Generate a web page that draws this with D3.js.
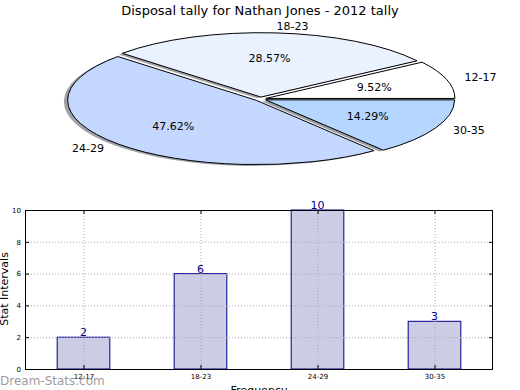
<!DOCTYPE html>
<html><head><meta charset="utf-8">
<script src="https://cdn.jsdelivr.net/npm/d3@7"></script>
<style>body{margin:0;background:#fff}svg{display:block;font-family:"DejaVu Sans",sans-serif}</style>
</head><body><svg id="c" width="520" height="390"></svg>
<script>
const categories = ["12-17","18-23","24-29","30-35"];
const values = [2,6,10,3];
const pieColors = ["#ffffff","#eaf1ff","#c4d8ff","#b4d6ff"];
const yTicks = [0,2,4,6,8,10];
const title = "Disposal tally for Nathan Jones - 2012 tally";

const svg = d3.select("#c");
svg.append("rect").attr("width",520).attr("height",390).attr("fill","#fff");

// ---- Pie (elliptical, matplotlib style) ----
const cx = 260.5, cy = 99, rx = 189, ry = 64.4, expl = 0.03;
const total = d3.sum(values);
const pie = d3.pie().sort(null).startAngle(Math.PI/2).endAngle(Math.PI/2 - 2*Math.PI);
const arcs = pie(values);
const arc = d3.arc().innerRadius(0).outerRadius(1);
const pg = svg.append("g").attr("transform",`translate(${cx},${cy}) scale(${rx},${ry})`);
const mid = d => (d.startAngle + d.endAngle)/2;
// shadows
pg.selectAll("path.sh").data(arcs).join("path").attr("class","sh")
  .attr("transform",d=>`translate(${expl*Math.sin(mid(d)) - 0.02},${-expl*Math.cos(mid(d)) + 0.02})`)
  .attr("d",arc)
  .attr("fill",(d,i)=>{const c=d3.rgb(pieColors[i]);return d3.rgb(c.r*0.3,c.g*0.3,c.b*0.3).toString();})
  .attr("fill-opacity",0.5);
pg.selectAll("path.w").data(arcs).join("path").attr("class","w")
  .attr("transform",d=>`translate(${expl*Math.sin(mid(d))},${-expl*Math.cos(mid(d))})`)
  .attr("d",arc)
  .attr("fill",(d,i)=>pieColors[i])
  .attr("stroke","#000").attr("stroke-width",1)
  .attr("vector-effect","non-scaling-stroke");
// labels
arcs.forEach((d,i)=>{
  const a = mid(d), s = Math.sin(a), c = Math.cos(a);
  svg.append("text").attr("x",cx + (1.1+expl)*rx*s).attr("y",cy - (1.1+expl)*ry*c)
    .attr("text-anchor", s>0 ? "start" : "end").attr("dominant-baseline","central")
    .attr("font-size",11).attr("fill","#000").text(categories[i]);
  svg.append("text").attr("x",cx + (0.6+expl)*rx*s).attr("y",cy - (0.6+expl)*ry*c)
    .attr("text-anchor","middle").attr("dominant-baseline","central")
    .attr("font-size",11).attr("fill","#000").text((d.value/total*100).toFixed(2)+"%");
});
svg.append("text").attr("x",260).attr("y",10).attr("text-anchor","middle").attr("dominant-baseline","central")
  .attr("font-size",13).text(title);

// ---- Bar chart ----
const L=25,R=493,T=210,B=369;
const x = d3.scaleBand().domain(categories).range([L,R]).paddingInner(0.55).paddingOuter(0.275);
const y = d3.scaleLinear().domain([0,10]).range([B,T]);
svg.append("g").selectAll("rect.bar").data(values).join("rect").attr("class","bar")
  .attr("x",(d,i)=>x(categories[i])).attr("y",d=>y(d))
  .attr("width",x.bandwidth()).attr("height",d=>B-y(d))
  .attr("fill","#ccccE5").attr("stroke","#00008b").attr("stroke-width",1);
// grid
const grid = svg.append("g").attr("stroke","#aaaaaa").attr("stroke-dasharray","1,2").attr("stroke-width",1);
grid.selectAll("line.h").data(yTicks).join("line").attr("class","h")
  .attr("x1",L).attr("x2",R).attr("y1",d=>y(d)+0.5).attr("y2",d=>y(d)+0.5);
grid.selectAll("line.v").data(categories).join("line").attr("class","v")
  .attr("y1",T).attr("y2",B).attr("x1",d=>x(d)+x.bandwidth()/2+0.5).attr("x2",d=>x(d)+x.bandwidth()/2+0.5);
// axes
const axL = d3.axisLeft(y).tickValues(yTicks).tickSize(-4).tickPadding(4);
const axR = d3.axisRight(y).tickValues(yTicks).tickSize(-4).tickFormat("");
const xs = d3.scalePoint().domain(categories).range([x(categories[0])+x.bandwidth()/2, x(categories[3])+x.bandwidth()/2]);
const axB = d3.axisBottom(xs).tickSize(-4).tickPadding(5);
const axT = d3.axisTop(xs).tickSize(-4).tickFormat("");
function style(g){g.select(".domain").remove();g.selectAll("text").attr("font-size",7).attr("fill","#000").attr("font-family","DejaVu Sans");g.selectAll("line").attr("stroke","#000");}
svg.append("g").attr("transform",`translate(${L},0)`).call(axL).call(style);
svg.append("g").attr("transform",`translate(${R},0)`).call(axR).call(style);
svg.append("g").attr("transform",`translate(0,${B})`).call(axB).call(style);
svg.append("g").attr("transform",`translate(0,${T})`).call(axT).call(style);
svg.append("rect").attr("x",L+0.5).attr("y",T+0.5).attr("width",R-L-1).attr("height",B-T).attr("fill","none").attr("stroke","#000");
// value labels
svg.selectAll("text.val").data(values).join("text").attr("class","val")
  .attr("x",(d,i)=>x(categories[i])+x.bandwidth()/2).attr("y",d=>y(d)-1)
  .attr("text-anchor","middle").attr("font-size",11).attr("fill","#00008b").text(d=>d);
svg.append("text").attr("x",259).attr("y",394).attr("text-anchor","middle").attr("font-size",11).text("Frequency");
svg.append("text").attr("transform","translate(8,289) rotate(-90)").attr("text-anchor","middle").attr("font-size",11).text("Stat Intervals");
svg.append("text").attr("x",0).attr("y",385).attr("font-size",12).attr("fill","#888").attr("fill-opacity",0.85).text("Dream-Stats.com");
</script></body></html>
